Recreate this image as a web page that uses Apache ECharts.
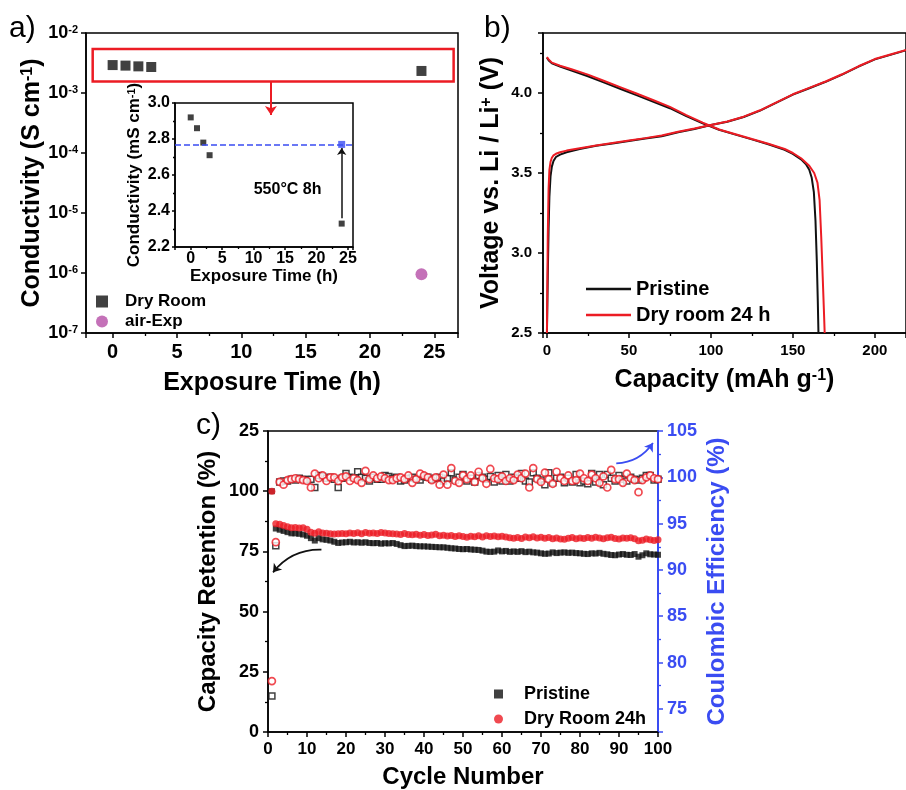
<!DOCTYPE html>
<html><head><meta charset="utf-8">
<script src="https://cdn.jsdelivr.net/npm/echarts@6/dist/echarts.min.js"></script>
<style>html,body{margin:0;padding:0;background:#fff}#c{width:906px;height:790px}</style>
</head><body><div id="c"></div>
<script>
// ---------- Panel a data ----------
const aTime = [0, 1, 2, 3, 24];
const aDryRoom = [2.92e-3, 2.86e-3, 2.78e-3, 2.71e-3, 2.33e-3];
const aAirTime = [24];
const aAirExp = [9.5e-7];
const insetTime = [0, 1, 2, 3, 24];
const insetDry = [2.92, 2.86, 2.78, 2.71, 2.33];
const insetAnnealTime = [24];
const insetAnnealed = [2.77];

// ---------- Panel b data ----------
const bChargeCap = [0, 0.5, 1, 1.5, 2.2, 3, 4, 5.5, 8, 12, 20, 30, 40, 50, 60, 70, 80, 90, 100, 110, 120, 130, 140, 150, 160, 170, 180, 190, 200, 210, 220];
const bPristineChargeV = [2.5, 2.85, 3.15, 3.35, 3.48, 3.54, 3.575, 3.6, 3.615, 3.63, 3.65, 3.67, 3.685, 3.7, 3.715, 3.73, 3.755, 3.775, 3.8, 3.82, 3.85, 3.89, 3.94, 3.99, 4.03, 4.07, 4.115, 4.165, 4.21, 4.24, 4.27];
const bDryChargeV = [2.5, 3.1, 3.4, 3.52, 3.57, 3.595, 3.61, 3.62, 3.63, 3.64, 3.655, 3.672, 3.688, 3.703, 3.718, 3.735, 3.758, 3.778, 3.8, 3.822, 3.852, 3.892, 3.942, 3.992, 4.032, 4.072, 4.117, 4.167, 4.212, 4.242, 4.272];
const bPristineDisCap = [0, 1, 3, 8, 15, 25, 35, 45, 55, 65, 75, 85, 95, 105, 115, 125, 135, 145, 150, 155, 158, 160, 161.5, 162.8, 163.8, 164.6, 165.2, 165.6];
const bPristineDisV = [4.22, 4.205, 4.185, 4.165, 4.14, 4.105, 4.065, 4.025, 3.985, 3.945, 3.905, 3.855, 3.81, 3.77, 3.74, 3.71, 3.68, 3.645, 3.62, 3.585, 3.555, 3.52, 3.47, 3.38, 3.2, 2.95, 2.7, 2.5];
const bDryDisCap = [0, 1, 3, 8, 15, 25, 35, 45, 55, 65, 75, 85, 95, 105, 115, 125, 135, 145, 150, 155, 160, 163, 165, 166.3, 167.3, 168.2, 168.9, 169.4];
const bDryDisV = [4.225, 4.21, 4.19, 4.17, 4.148, 4.115, 4.075, 4.035, 3.995, 3.955, 3.913, 3.862, 3.815, 3.772, 3.742, 3.712, 3.683, 3.65, 3.625, 3.592, 3.545, 3.5, 3.44, 3.33, 3.1, 2.85, 2.65, 2.5];

// ---------- Panel c data (cycles 1..100) ----------
const cPristineRet = [100,84.5,84,83.5,83,82.5,82.5,82.3,82,81.5, 80.5,79.5,80.5,80,79.8,79.5,79,78.5,78.7,78.8, 79,78.7,78.8,78.6,78.8,78.5,78.4,78.5,78.2,78.4, 78.3,78.5,78.1,77.6,77.2,77.3,77.4,77.2,77.1,77.1, 77,76.9,76.8,76.7,76.7,76.5,76.3,76.2,76,75.9, 76,75.8,75.7,75.6,75.3,74.9,74.8,74.9,75.4,75, 75.2,74.8,75,74.8,75.1,74.7,74.9,74.6,74.5,74.2, 74,74.1,74.6,74.3,74.5,74.6,74.4,74.5,74.3,74.2, 74,73.9,74.2,74.1,74.4,74,73.8,73.5,73.4,73.7, 73.9,73.6,73.5,73.9,72.8,73.4,74.2,73.8,73.7,73.6];
const cDryRet = [100,86.5,86.3,85.8,85.2,84.8,84.9,84.7,84.8,84.2, 83,82.5,83.2,82.6,82.5,82.3,82.2,82.3,82.4,82.3, 82.6,82.4,82.7,82.3,82.8,82.5,82.6,82.4,82.9,82.6, 82.4,82.3,82.2,82,82.4,82,81.9,82.1,81.7,82, 81.6,81.8,82.1,81.5,81.7,81.4,81.6,81.2,81.5,81.2, 80.9,81.3,81.1,81.5,81,81.5,81.2,81.4,81.1,81.3, 81,80.7,80.5,80.8,80.4,81,80.7,81.1,80.6,80.9, 80.5,80.8,80.3,80.6,80.2,80,80.5,80.8,80.3,80.6, 80.4,80.8,80.5,80.9,80.6,80.3,80.7,80.9,80.4,80.2, 80.6,80.5,80.7,80.3,79.4,79.6,80.1,79.8,79.5,79.8];
const cPristineCE = [76.4,92.6,99.5,99.6,99.6,99.8,99.7,99.9,99.8,99.7, 99.8,98.9,100.2,100.1,99.9,100,99.8,98.9,99.9,100.4, 100,99.9,100.6,100,99.9,99.6,100,99.8,99.8,100.2, 100.1,99.9,100,99.6,99.7,99.9,100,99.8,99.7,100.1, 100,99.8,99.9,100,99.6,99.9,100.5,99.7,100,100.3, 99.6,99.9,99.5,100.2,100,99.8,100.1,99.5,100.2,99.6, 100.3,99.6,100,99.9,100.4,99.6,99.5,100.5,99.9,99.7, 99.2,100.5,99.4,99.9,100,99.4,99.9,99.5,100.3,99.4, 99.6,99.3,100.4,99.5,100.3,99.2,100.3,99.9,99.6,100.2, 99.8,99.6,100,99.8,99.7,99.9,100.2,100.2,99.7,99.8];
const cDryCE = [78.0,93.0,99.5,99.2,99.7,99.8,99.9,99.8,99.7,99.6, 98.9,100.4,99.9,100.2,99.6,100,100,99.6,100,100.1, 99.6,99.9,99.7,99.4,100.7,99.8,100.2,99.9,100.1,99.9, 99.7,99.7,99.9,100,99.8,100.2,99.4,99.8,100.4,100.2, 100,99.7,100,99.2,100.3,99.2,101,99.6,99.4,100.2, 99.8,100.2,99.5,100.6,99.9,99.3,100.9,99.9,99.8,100.1, 99.6,99.9,99.7,100.3,99.9,100.4,98.9,101,99.8,99.5, 100.5,99.8,99.3,100.6,99.9,99.6,100.2,99.6,99.7,100.4, 99.9,99.6,100.3,99.9,99.4,100.1,98.9,100.8,99.8,99.8, 99.4,100.4,99.9,99.7,98.4,99.7,100,100.2,99.9,99.8];

// ---------- styling ----------
const F = '"Liberation Sans", Arial, Helvetica, sans-serif';
const BLACK = '#111111', RED = '#ec1c24', BLUE = '#3a4cf2', PURPLE = '#b54ea6';
const zip = (xs, ys) => xs.map((x, i) => [x, ys[i]]);
const cyc = arr => arr.map((v, i) => [i + 1, v]);

function rich(fs, color) {
  return {
    n: {fontFamily: F, fontWeight: 'bold', fontSize: fs, color: color},
    s: {fontFamily: F, fontWeight: 'bold', fontSize: Math.round(fs * 0.62), color: color, verticalAlign: 'top'}
  };
}
function axis(o) {
  const color = o.color || '#000';
  const a = {
    type: o.type || 'value',
    gridIndex: o.grid,
    position: o.position,
    min: o.min, max: o.max,
    axisLine: {show: true, onZero: false, lineStyle: {color: color, width: o.lw || 1.5}},
    axisTick: {show: true, inside: false, length: o.tl || 5, lineStyle: {color: color, width: 1.5}},
    minorTick: {show: o.minor !== false, splitNumber: 2, length: o.mtl || 3, lineStyle: {color: color, width: 1.3}},
    splitLine: {show: false},
    minorSplitLine: {show: false},
    axisLabel: {color: color, fontFamily: F, fontWeight: 'bold', fontSize: o.fs, margin: o.margin,
      showMinLabel: o.showMin, showMaxLabel: o.showMax, formatter: o.fmt, rich: rich(o.fs, color)},
    name: o.name, nameLocation: 'middle', nameGap: o.gap,
    nameTextStyle: {color: color, fontFamily: F, fontWeight: 'bold', fontSize: o.nfs, rich: rich(o.nfs, color)}
  };
  if (o.interval != null) a.interval = o.interval;
  if (o.fixed != null) { a.minInterval = o.fixed; a.maxInterval = o.fixed; }
  if (o.type === 'log') a.logBase = 10;
  return a;
}
const f1 = v => (Math.round(v * 10) / 10).toFixed(1);

const option = {
  animation: false,
  backgroundColor: '#fff',
  grid: [
    {left: 86, top: 33, width: 372, height: 300, show: true, borderColor: '#000', borderWidth: 1.5, backgroundColor: 'transparent'},
    {left: 175, top: 103, width: 178, height: 144, show: true, borderColor: '#000', borderWidth: 1.5, backgroundColor: '#fff'},
    {left: 543, top: 33, width: 366, height: 300, show: true, borderColor: '#000', borderWidth: 1.5, backgroundColor: 'transparent'},
    {left: 268, top: 431, width: 390, height: 302, show: true, borderColor: '#000', borderWidth: 1.5, backgroundColor: 'transparent'}
  ],
  xAxis: [
    axis({grid: 0, min: -2.07, max: 26.84, fixed: 5, fs: 20, margin: 9, showMin: false, showMax: false,
      name: 'Exposure Time (h)', gap: 38, nfs: 25}),
    axis({grid: 1, min: -2.5, max: 25.8, fixed: 5, fs: 16, margin: 4, tl: 3, mtl: 2, showMin: false, showMax: false,
      name: 'Exposure Time (h)', gap: 20, nfs: 17}),
    axis({grid: 2, min: -2.4, max: 219, fixed: 50, fs: 15, margin: 10, showMin: false, showMax: false,
      name: '{n|Capacity (mAh g}{s|-1}{n|)}', gap: 35, nfs: 25}),
    axis({grid: 3, min: 0, max: 100, interval: 10, fs: 17, margin: 9,
      name: 'Cycle Number', gap: 33, nfs: 24})
  ],
  yAxis: [
    axis({grid: 0, type: 'log', min: 1e-7, max: 1e-2, minor: false, fs: 18, margin: 8,
      fmt: v => '{n|10}{s|' + Math.round(Math.log10(v)) + '}',
      name: '{n|Conductivity (S cm}{s|-1}{n|)}', gap: 40, nfs: 25}),
    axis({grid: 1, min: 2.2, max: 3.0, interval: 0.2, fs: 16, margin: 5, tl: 3, mtl: 2, fmt: f1,
      name: '{n|Conductivity (mS cm}{s|-1}{n|)}', gap: 32, nfs: 17}),
    axis({grid: 2, min: 2.5, max: 4.375, fixed: 0.5, fs: 15, margin: 11, fmt: f1, showMax: false,
      name: '{n|Voltage vs. Li / Li}{s|+}{n| (V)}', gap: 39, nfs: 25}),
    axis({grid: 3, min: 0, max: 125, interval: 25, fs: 18, margin: 9,
      fmt: v => (v === 125 ? '25' : String(v)),
      name: 'Capacity Retention (%)', gap: 48, nfs: 24}),
    axis({grid: 3, position: 'right', min: 72.5, max: 105, fixed: 5, fs: 18, margin: 9, showMin: false,
      color: BLUE, lw: 2, name: 'Coulombic Efficiency (%)', gap: 47, nfs: 24})
  ],
  legend: [
    {data: ['Dry Room', 'air-Exp'], orient: 'vertical', left: 91, top: 288, itemWidth: 12, itemHeight: 12, itemGap: 3,
      selectedMode: false, textStyle: {fontFamily: F, fontWeight: 'bold', fontSize: 17, color: '#000', padding: [0, 0, 0, 12]}},
    {data: ['b-Pristine', 'b-Dry room 24 h'], orient: 'vertical', left: 581, top: 274, icon: 'rect', itemWidth: 45, itemHeight: 2.5, itemGap: 6,
      selectedMode: false, formatter: n => n.slice(2),
      textStyle: {fontFamily: F, fontWeight: 'bold', fontSize: 20, color: '#000'}},
    {data: ['Pristine', 'Dry Room 24h'], orient: 'vertical', left: 489, top: 680, itemWidth: 9, itemHeight: 9, itemGap: 7,
      selectedMode: false, textStyle: {fontFamily: F, fontWeight: 'bold', fontSize: 18, color: '#000', padding: [0, 0, 0, 16]}}
  ],
  graphic: [
    {type: 'text', left: 9, top: 14, style: {text: 'a)', font: '30px ' + F, fill: '#000'}},
    {type: 'text', left: 484, top: 14, style: {text: 'b)', font: '30px ' + F, fill: '#000'}},
    {type: 'text', left: 196, top: 411, style: {text: 'c)', font: '30px ' + F, fill: '#000'}}
  ],
  series: [
    // ----- panel a -----
    {type: 'scatter', name: 'Dry Room', xAxisIndex: 0, yAxisIndex: 0, symbol: 'rect', symbolSize: 10,
      itemStyle: {color: BLACK}, data: zip(aTime, aDryRoom),
      markArea: {silent: true, itemStyle: {color: 'rgba(0,0,0,0)', borderColor: RED, borderWidth: 2.5},
        data: [[{coord: [-1.55, 5.4e-3]}, {coord: [26.5, 1.55e-3]}]]}},
    {type: 'scatter', name: 'air-Exp', xAxisIndex: 0, yAxisIndex: 0, symbol: 'circle', symbolSize: 12,
      itemStyle: {color: PURPLE}, data: zip(aAirTime, aAirExp)},
    {type: 'lines', coordinateSystem: 'cartesian2d', xAxisIndex: 0, yAxisIndex: 0, z: 5,
      symbol: ['none', 'arrow'], symbolSize: 9, lineStyle: {color: RED, width: 2, opacity: 1, curveness: 0},
      data: [{coords: [[12.3, 1.55e-3], [12.3, 4.3e-4]]}]},
    // inset
    {type: 'scatter', name: 'inset', xAxisIndex: 1, yAxisIndex: 1, symbol: 'rect', symbolSize: 6, z: 4,
      itemStyle: {color: BLACK}, data: zip(insetTime, insetDry),
      markLine: {silent: true, symbol: ['none', 'none'], label: {show: false},
        lineStyle: {type: 'dashed', color: BLUE, width: 1.5}, data: [{yAxis: insetAnnealed[0]}]},
      markPoint: {silent: true, symbol: 'circle', symbolSize: 1, itemStyle: {color: 'rgba(0,0,0,0)'},
        label: {show: true, position: 'inside', formatter: '550°C 8h', color: '#000', fontFamily: F, fontWeight: 'bold', fontSize: 16},
        data: [{coord: [15.4, 2.52]}]}},
    {type: 'scatter', name: 'inset-annealed', xAxisIndex: 1, yAxisIndex: 1, symbol: 'rect', symbolSize: 7, z: 4,
      itemStyle: {color: BLUE}, data: zip(insetAnnealTime, insetAnnealed)},
    {type: 'lines', coordinateSystem: 'cartesian2d', xAxisIndex: 1, yAxisIndex: 1, z: 5,
      symbol: ['none', 'arrow'], symbolSize: 7, lineStyle: {color: BLACK, width: 1.5, opacity: 1, curveness: 0},
      data: [{coords: [[24, 2.36], [24, 2.75]]}]},
    // ----- panel b -----
    {type: 'line', name: 'b-Pristine', xAxisIndex: 2, yAxisIndex: 2, symbol: 'none', showSymbol: false,
      lineStyle: {color: BLACK, width: 2}, itemStyle: {color: BLACK}, data: zip(bChargeCap, bPristineChargeV)},
    {type: 'line', name: 'b-Pristine', xAxisIndex: 2, yAxisIndex: 2, symbol: 'none', showSymbol: false,
      lineStyle: {color: BLACK, width: 2}, itemStyle: {color: BLACK}, data: zip(bPristineDisCap, bPristineDisV)},
    {type: 'line', name: 'b-Dry room 24 h', xAxisIndex: 2, yAxisIndex: 2, symbol: 'none', showSymbol: false,
      lineStyle: {color: RED, width: 2}, itemStyle: {color: RED}, data: zip(bChargeCap, bDryChargeV)},
    {type: 'line', name: 'b-Dry room 24 h', xAxisIndex: 2, yAxisIndex: 2, symbol: 'none', showSymbol: false,
      lineStyle: {color: RED, width: 2}, itemStyle: {color: RED}, data: zip(bDryDisCap, bDryDisV)},
    // ----- panel c -----
    {type: 'scatter', name: 'Pristine CE', xAxisIndex: 3, yAxisIndex: 4, symbol: 'rect', symbolSize: 6,
      itemStyle: {color: '#fff', borderColor: BLACK, borderWidth: 1.5}, data: cyc(cPristineCE)},
    {type: 'scatter', name: 'Dry Room CE', xAxisIndex: 3, yAxisIndex: 4, symbol: 'circle', symbolSize: 7,
      itemStyle: {color: '#fff', borderColor: RED, borderWidth: 1.7}, data: cyc(cDryCE)},
    {type: 'scatter', name: 'Pristine', xAxisIndex: 3, yAxisIndex: 3, symbol: 'rect', symbolSize: 6,
      itemStyle: {color: BLACK}, data: cyc(cPristineRet)},
    {type: 'scatter', name: 'Dry Room 24h', xAxisIndex: 3, yAxisIndex: 3, symbol: 'circle', symbolSize: 7,
      itemStyle: {color: RED}, data: cyc(cDryRet)},
    {type: 'lines', coordinateSystem: 'cartesian2d', xAxisIndex: 3, yAxisIndex: 3, z: 5,
      symbol: ['none', 'arrow'], symbolSize: 8, lineStyle: {color: BLACK, width: 1.8, opacity: 1, curveness: -0.25},
      data: [{coords: [[13.7, 75.7], [1.3, 66.3]]}]},
    {type: 'lines', coordinateSystem: 'cartesian2d', xAxisIndex: 3, yAxisIndex: 4, z: 5,
      symbol: ['none', 'arrow'], symbolSize: 8, lineStyle: {color: BLUE, width: 1.8, opacity: 1, curveness: -0.25},
      data: [{coords: [[89.3, 101.5], [98.7, 103.7]]}]}
  ]
};
const chart = echarts.init(document.getElementById('c'), null, {renderer: 'canvas'});
chart.setOption(option);
</script>
</body></html>
